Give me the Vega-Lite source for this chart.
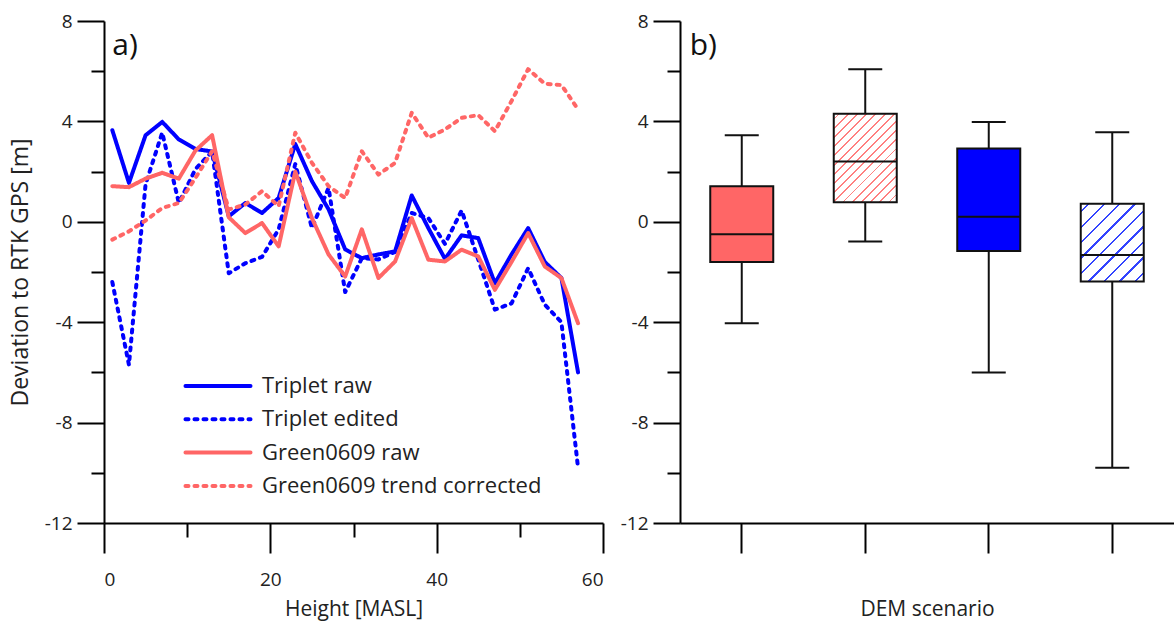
{
  "$schema": "https://vega.github.io/schema/vega-lite/v6.json",
  "background": "white",
  "padding": {"left": 9, "top": 12, "right": 0, "bottom": 5},
  "bounds": "flush",
  "spacing": 77,
  "config": {
    "view": {"stroke": null},
    "font": "Open Sans",
    "axis": {"domainColor": "black", "domainWidth": 2, "tickColor": "black", "tickWidth": 2, "labelFontSize": 19, "labelColor": "#222", "titleFontSize": 21, "titleFontWeight": "normal", "titleColor": "#222", "grid": false, "labelFont": "Open Sans", "titleFont": "Open Sans"}
  },
  "datasets": {
    "heights": [
      {"height": 1, "Triplet raw": 3.65, "Triplet edited": -2.4, "Green0609 raw": 1.42, "Green0609 trend corrected": -0.71},
      {"height": 3, "Triplet raw": 1.55, "Triplet edited": -5.7, "Green0609 raw": 1.38, "Green0609 trend corrected": -0.38},
      {"height": 5, "Triplet raw": 3.45, "Triplet edited": 1.5, "Green0609 raw": 1.72, "Green0609 trend corrected": 0.05},
      {"height": 7, "Triplet raw": 3.98, "Triplet edited": 3.55, "Green0609 raw": 1.95, "Green0609 trend corrected": 0.55},
      {"height": 9, "Triplet raw": 3.28, "Triplet edited": 0.75, "Green0609 raw": 1.72, "Green0609 trend corrected": 0.75},
      {"height": 11, "Triplet raw": 2.9, "Triplet edited": 2.1, "Green0609 raw": 2.84, "Green0609 trend corrected": 1.75},
      {"height": 13, "Triplet raw": 2.8, "Triplet edited": 2.8, "Green0609 raw": 3.45, "Green0609 trend corrected": 2.81},
      {"height": 15, "Triplet raw": 0.22, "Triplet edited": -2.05, "Green0609 raw": 0.18, "Green0609 trend corrected": 0.49},
      {"height": 17, "Triplet raw": 0.75, "Triplet edited": -1.65, "Green0609 raw": -0.45, "Green0609 trend corrected": 0.69},
      {"height": 19, "Triplet raw": 0.35, "Triplet edited": -1.4, "Green0609 raw": -0.05, "Green0609 trend corrected": 1.22},
      {"height": 21, "Triplet raw": 0.95, "Triplet edited": -0.3, "Green0609 raw": -0.98, "Green0609 trend corrected": 0.62},
      {"height": 23, "Triplet raw": 3.1, "Triplet edited": 2.3, "Green0609 raw": 2.0, "Green0609 trend corrected": 3.55},
      {"height": 25, "Triplet raw": 1.62, "Triplet edited": -0.25, "Green0609 raw": 0.15, "Green0609 trend corrected": 2.35},
      {"height": 27, "Triplet raw": 0.5, "Triplet edited": 1.35, "Green0609 raw": -1.3, "Green0609 trend corrected": 1.42},
      {"height": 29, "Triplet raw": -1.1, "Triplet edited": -2.8, "Green0609 raw": -2.18, "Green0609 trend corrected": 0.95},
      {"height": 31, "Triplet raw": -1.45, "Triplet edited": -1.45, "Green0609 raw": -0.3, "Green0609 trend corrected": 2.81},
      {"height": 33, "Triplet raw": -1.3, "Triplet edited": -1.5, "Green0609 raw": -2.24, "Green0609 trend corrected": 1.88},
      {"height": 35, "Triplet raw": -1.18, "Triplet edited": -1.2, "Green0609 raw": -1.58, "Green0609 trend corrected": 2.35},
      {"height": 37, "Triplet raw": 1.05, "Triplet edited": 0.35, "Green0609 raw": 0.15, "Green0609 trend corrected": 4.34},
      {"height": 39, "Triplet raw": -0.25, "Triplet edited": 0.15, "Green0609 raw": -1.51, "Green0609 trend corrected": 3.35},
      {"height": 41, "Triplet raw": -1.48, "Triplet edited": -0.88, "Green0609 raw": -1.58, "Green0609 trend corrected": 3.68},
      {"height": 43, "Triplet raw": -0.54, "Triplet edited": 0.45, "Green0609 raw": -1.11, "Green0609 trend corrected": 4.14},
      {"height": 45, "Triplet raw": -0.65, "Triplet edited": -1.5, "Green0609 raw": -1.38, "Green0609 trend corrected": 4.25},
      {"height": 47, "Triplet raw": -2.45, "Triplet edited": -3.5, "Green0609 raw": -2.71, "Green0609 trend corrected": 3.61},
      {"height": 49, "Triplet raw": -1.3, "Triplet edited": -3.25, "Green0609 raw": -1.6, "Green0609 trend corrected": 4.81},
      {"height": 51, "Triplet raw": -0.25, "Triplet edited": -1.85, "Green0609 raw": -0.45, "Green0609 trend corrected": 6.08},
      {"height": 53, "Triplet raw": -1.6, "Triplet edited": -3.3, "Green0609 raw": -1.78, "Green0609 trend corrected": 5.5},
      {"height": 55, "Triplet raw": -2.24, "Triplet edited": -4.0, "Green0609 raw": -2.24, "Green0609 trend corrected": 5.45},
      {"height": 57, "Triplet raw": -6.0, "Triplet edited": -9.8, "Green0609 raw": -4.04, "Green0609 trend corrected": 4.48}
    ],
    "boxes": [
      {"scenario": "Green0609 raw", "min": -4.04, "q1": -1.6, "median": -0.5, "q3": 1.42, "max": 3.45},
      {"scenario": "Green0609 trend corrected", "min": -0.78, "q1": 0.78, "median": 2.4, "q3": 4.3, "max": 6.08},
      {"scenario": "Triplet raw", "min": -6.0, "q1": -1.16, "median": 0.2, "q3": 2.92, "max": 3.98},
      {"scenario": "Triplet edited", "min": -9.8, "q1": -2.38, "median": -1.32, "q3": 0.72, "max": 3.57}
    ]
  },
  "hconcat": [
    {
      "width": 499,
      "height": 502,
      "layer": [
        {
          "data": {"name": "heights"},
          "transform": [{"fold": ["Triplet raw", "Triplet edited", "Green0609 raw", "Green0609 trend corrected"], "as": ["series", "deviation"]}],
          "mark": {"type": "line", "strokeWidth": 4, "strokeCap": "round", "strokeJoin": "round"},
          "encoding": {
            "x": {"field": "height", "type": "quantitative", "scale": {"domain": [0, 60], "nice": false},
              "axis": {"title": "Height [MASL]", "values": [0, 10, 20, 30, 40, 50, 60],
                "tickSize": {"condition": {"test": "datum.value % 20 === 0", "value": 30}, "value": 14},
                "labelExpr": "datum.value % 20 === 0 ? '' + datum.value : ''", "labelPadding": 17, "titlePadding": 9}},
            "y": {"field": "deviation", "type": "quantitative", "scale": {"domain": [-12, 8], "nice": false},
              "axis": {"title": "Deviation to RTK GPS [m]", "titleFontSize": 23, "values": [-12, -10, -8, -6, -4, -2, 0, 2, 4, 6, 8],
                "tickSize": {"condition": {"test": "datum.value % 4 === 0", "value": 27}, "value": 13},
                "labelExpr": "datum.value % 4 === 0 ? '' + datum.value : ''", "labelPadding": 5, "titlePadding": 12}},
            "color": {"field": "series", "type": "nominal",
              "scale": {"domain": ["Triplet raw", "Triplet edited", "Green0609 raw", "Green0609 trend corrected"], "range": ["#0000ff", "#0000ff", "#ff6666", "#ff6666"]},
              "legend": {"title": null, "orient": "none", "legendX": 101, "legendY": 352, "symbolType": "M-3,0H3", "symbolSize": 470, "symbolStrokeWidth": 4, "labelOffset": 31, "rowPadding": 9.3, "labelFontSize": 22, "labelLimit": 500, "labelColor": "#222", "labelFont": "Open Sans", "padding": 0,
                "encode": {"symbols": {"update": {"strokeCap": {"value": "round"}}}}}},
            "strokeDash": {"field": "series", "type": "nominal",
              "scale": {"domain": ["Triplet raw", "Triplet edited", "Green0609 raw", "Green0609 trend corrected"], "range": [[1, 0], [3, 6], [1, 0], [3, 6]]},
              "legend": {"title": null, "orient": "none", "legendX": 101, "legendY": 352, "symbolType": "M-3,0H3", "symbolSize": 470, "symbolStrokeWidth": 4, "labelOffset": 31, "rowPadding": 9.3, "labelFontSize": 22, "labelLimit": 500, "labelColor": "#222", "labelFont": "Open Sans", "padding": 0,
                "encode": {"symbols": {"update": {"strokeCap": {"value": "round"}}}}}}
          }
        },
        {
          "data": {"values": [{}]},
          "mark": {"type": "text", "align": "left", "baseline": "middle", "fontSize": 30, "font": "Open Sans", "color": "#111"},
          "encoding": {
            "x": {"datum": 1, "type": "quantitative"},
            "y": {"datum": 7, "type": "quantitative"},
            "text": {"value": "a)"}
          }
        }
      ]
    },
    {
      "width": 494,
      "height": 502,
      "data": {"name": "boxes"},
      "encoding": {
        "x": {"field": "scenario", "type": "nominal",
          "scale": {"domain": ["Green0609 raw", "Green0609 trend corrected", "Triplet raw", "Triplet edited"], "paddingInner": 0, "paddingOuter": -0.03},
          "axis": {"title": "DEM scenario", "labels": false, "tickSize": 30, "titlePadding": 44}}
      },
      "layer": [
        {
          "mark": {"type": "rule", "color": "#111", "strokeWidth": 2},
          "encoding": {
            "y": {"field": "min", "type": "quantitative", "scale": {"domain": [-12, 8], "nice": false},
              "axis": {"title": null, "values": [-12, -10, -8, -6, -4, -2, 0, 2, 4, 6, 8],
                "tickSize": {"condition": {"test": "datum.value % 4 === 0", "value": 27}, "value": 13},
                "labelExpr": "datum.value % 4 === 0 ? '' + datum.value : ''", "labelPadding": 5}},
            "y2": {"field": "max"}
          }
        },
        {
          "mark": {"type": "tick", "color": "#111", "size": 34, "thickness": 2, "opacity": 1},
          "encoding": {"y": {"field": "min", "type": "quantitative"}}
        },
        {
          "mark": {"type": "tick", "color": "#111", "size": 34, "thickness": 2, "opacity": 1},
          "encoding": {"y": {"field": "max", "type": "quantitative"}}
        },
        {
          "transform": [{"filter": "datum.scenario === 'Green0609 raw'"}],
          "mark": {"type": "bar", "width": 63, "fill": "#ff6666", "stroke": "#111", "strokeWidth": 2},
          "encoding": {"y": {"field": "q1", "type": "quantitative"}, "y2": {"field": "q3"}}
        },
        {
          "transform": [{"filter": "datum.scenario === 'Triplet raw'"}],
          "mark": {"type": "bar", "width": 63, "fill": "#0000ff", "stroke": "#111", "strokeWidth": 2},
          "encoding": {"y": {"field": "q1", "type": "quantitative"}, "y2": {"field": "q3"}}
        },
        {
          "transform": [{"filter": "datum.scenario === 'Green0609 trend corrected'"}],
          "mark": {"type": "bar", "width": 63, "stroke": "#111", "strokeWidth": 2,
            "fill": {"gradient": "linear", "x1": 0, "y1": 0, "x2": 0.81, "y2": 1.136, "stops": [
              {"offset": 0, "color": "#ffffff"},
              {"offset": 0.03, "color": "#ffffff"}, {"offset": 0.03, "color": "#ff8080"}, {"offset": 0.042, "color": "#ff8080"}, {"offset": 0.042, "color": "#ffffff"},
              {"offset": 0.091, "color": "#ffffff"}, {"offset": 0.091, "color": "#ff8080"}, {"offset": 0.103, "color": "#ff8080"}, {"offset": 0.103, "color": "#ffffff"},
              {"offset": 0.151, "color": "#ffffff"}, {"offset": 0.151, "color": "#ff8080"}, {"offset": 0.163, "color": "#ff8080"}, {"offset": 0.163, "color": "#ffffff"},
              {"offset": 0.212, "color": "#ffffff"}, {"offset": 0.212, "color": "#ff8080"}, {"offset": 0.224, "color": "#ff8080"}, {"offset": 0.224, "color": "#ffffff"},
              {"offset": 0.273, "color": "#ffffff"}, {"offset": 0.273, "color": "#ff8080"}, {"offset": 0.285, "color": "#ff8080"}, {"offset": 0.285, "color": "#ffffff"},
              {"offset": 0.334, "color": "#ffffff"}, {"offset": 0.334, "color": "#ff8080"}, {"offset": 0.346, "color": "#ff8080"}, {"offset": 0.346, "color": "#ffffff"},
              {"offset": 0.394, "color": "#ffffff"}, {"offset": 0.394, "color": "#ff8080"}, {"offset": 0.406, "color": "#ff8080"}, {"offset": 0.406, "color": "#ffffff"},
              {"offset": 0.455, "color": "#ffffff"}, {"offset": 0.455, "color": "#ff8080"}, {"offset": 0.467, "color": "#ff8080"}, {"offset": 0.467, "color": "#ffffff"},
              {"offset": 0.516, "color": "#ffffff"}, {"offset": 0.516, "color": "#ff8080"}, {"offset": 0.528, "color": "#ff8080"}, {"offset": 0.528, "color": "#ffffff"},
              {"offset": 0.576, "color": "#ffffff"}, {"offset": 0.576, "color": "#ff8080"}, {"offset": 0.588, "color": "#ff8080"}, {"offset": 0.588, "color": "#ffffff"},
              {"offset": 0.637, "color": "#ffffff"}, {"offset": 0.637, "color": "#ff8080"}, {"offset": 0.649, "color": "#ff8080"}, {"offset": 0.649, "color": "#ffffff"},
              {"offset": 0.698, "color": "#ffffff"}, {"offset": 0.698, "color": "#ff8080"}, {"offset": 0.71, "color": "#ff8080"}, {"offset": 0.71, "color": "#ffffff"},
              {"offset": 0.758, "color": "#ffffff"}, {"offset": 0.758, "color": "#ff8080"}, {"offset": 0.77, "color": "#ff8080"}, {"offset": 0.77, "color": "#ffffff"},
              {"offset": 0.819, "color": "#ffffff"}, {"offset": 0.819, "color": "#ff8080"}, {"offset": 0.831, "color": "#ff8080"}, {"offset": 0.831, "color": "#ffffff"},
              {"offset": 0.88, "color": "#ffffff"}, {"offset": 0.88, "color": "#ff8080"}, {"offset": 0.892, "color": "#ff8080"}, {"offset": 0.892, "color": "#ffffff"},
              {"offset": 0.941, "color": "#ffffff"}, {"offset": 0.941, "color": "#ff8080"}, {"offset": 0.953, "color": "#ff8080"}, {"offset": 0.953, "color": "#ffffff"},
              {"offset": 1, "color": "#ffffff"}
            ]}},
          "encoding": {"y": {"field": "q1", "type": "quantitative"}, "y2": {"field": "q3"}}
        },
        {
          "transform": [{"filter": "datum.scenario === 'Triplet edited'"}],
          "mark": {"type": "bar", "width": 63, "stroke": "#111", "strokeWidth": 2,
            "fill": {"gradient": "linear", "x1": 0, "y1": 0, "x2": 0.885, "y2": 1.093, "stops": [
              {"offset": 0, "color": "#ffffff"},
              {"offset": 0.05, "color": "#ffffff"}, {"offset": 0.05, "color": "#3344ff"}, {"offset": 0.066, "color": "#3344ff"}, {"offset": 0.066, "color": "#ffffff"},
              {"offset": 0.16, "color": "#ffffff"}, {"offset": 0.16, "color": "#3344ff"}, {"offset": 0.176, "color": "#3344ff"}, {"offset": 0.176, "color": "#ffffff"},
              {"offset": 0.27, "color": "#ffffff"}, {"offset": 0.27, "color": "#3344ff"}, {"offset": 0.286, "color": "#3344ff"}, {"offset": 0.286, "color": "#ffffff"},
              {"offset": 0.38, "color": "#ffffff"}, {"offset": 0.38, "color": "#3344ff"}, {"offset": 0.396, "color": "#3344ff"}, {"offset": 0.396, "color": "#ffffff"},
              {"offset": 0.49, "color": "#ffffff"}, {"offset": 0.49, "color": "#3344ff"}, {"offset": 0.506, "color": "#3344ff"}, {"offset": 0.506, "color": "#ffffff"},
              {"offset": 0.6, "color": "#ffffff"}, {"offset": 0.6, "color": "#3344ff"}, {"offset": 0.616, "color": "#3344ff"}, {"offset": 0.616, "color": "#ffffff"},
              {"offset": 0.71, "color": "#ffffff"}, {"offset": 0.71, "color": "#3344ff"}, {"offset": 0.726, "color": "#3344ff"}, {"offset": 0.726, "color": "#ffffff"},
              {"offset": 0.82, "color": "#ffffff"}, {"offset": 0.82, "color": "#3344ff"}, {"offset": 0.836, "color": "#3344ff"}, {"offset": 0.836, "color": "#ffffff"},
              {"offset": 0.93, "color": "#ffffff"}, {"offset": 0.93, "color": "#3344ff"}, {"offset": 0.946, "color": "#3344ff"}, {"offset": 0.946, "color": "#ffffff"},
              {"offset": 1, "color": "#ffffff"}
            ]}},
          "encoding": {"y": {"field": "q1", "type": "quantitative"}, "y2": {"field": "q3"}}
        },
        {
          "mark": {"type": "tick", "color": "#111", "size": 63, "thickness": 2, "opacity": 1},
          "encoding": {"y": {"field": "median", "type": "quantitative"}}
        },
        {
          "data": {"values": [{}]},
          "mark": {"type": "text", "align": "left", "baseline": "middle", "fontSize": 30, "font": "Open Sans", "color": "#111", "dx": -52},
          "encoding": {
            "x": {"datum": "Green0609 raw"},
            "y": {"datum": 7, "type": "quantitative"},
            "text": {"value": "b)"}
          }
        }
      ]
    }
  ]
}
